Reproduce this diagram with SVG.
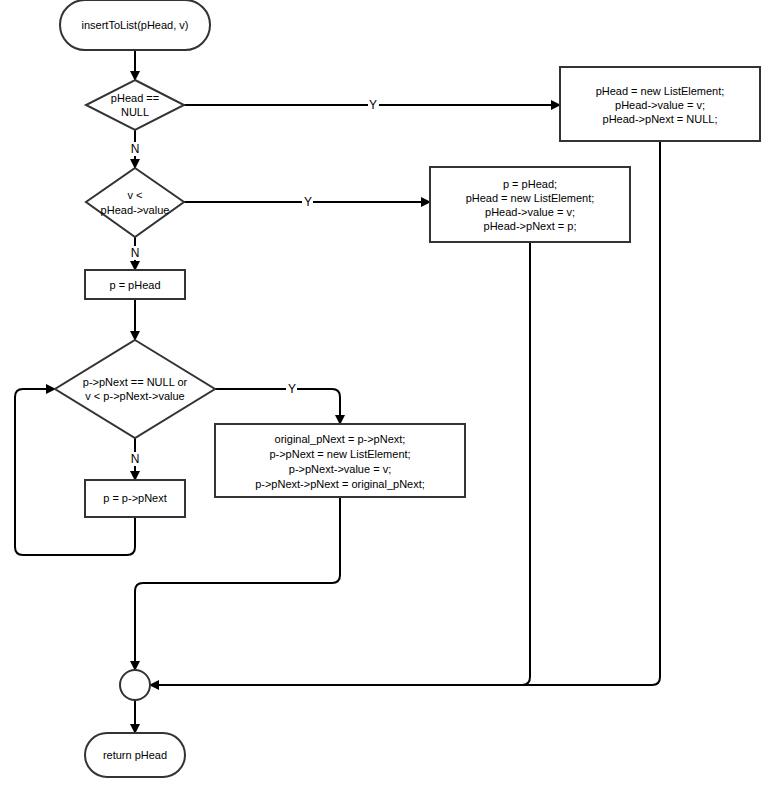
<svg xmlns="http://www.w3.org/2000/svg" width="784" height="800" viewBox="0 0 784 800">
<style>
.n{fill:#fff;stroke:#333;stroke-width:2}
.c{fill:none;stroke:#000;stroke-width:2}
text{font-family:"Liberation Sans",Arial,sans-serif;font-size:11px;fill:#000;text-anchor:middle}
.l{font-size:12px}
</style>
<defs><marker id="a" viewBox="0 0 10 10" refX="9" refY="5" markerWidth="5" markerHeight="5" orient="auto"><path d="M0,0L10,5L0,10z" fill="#000"/></marker></defs>
<rect width="784" height="800" fill="#fff"/>
<g id="connectors">
<path class="c" d="M135,50V80" marker-end="url(#a)"/>
<path class="c" d="M135,130V168" marker-end="url(#a)"/>
<path class="c" d="M135,237V270" marker-end="url(#a)"/>
<path class="c" d="M135,299V340" marker-end="url(#a)"/>
<path class="c" d="M135,438V480" marker-end="url(#a)"/>
<path class="c" d="M184,105H560" marker-end="url(#a)"/>
<path class="c" d="M184,202H430" marker-end="url(#a)"/>
<path class="c" d="M215,389H332Q340,389 340,397V424" marker-end="url(#a)"/>
<path class="c" d="M135,517V547Q135,555 127,555H23Q15,555 15,547V397Q15,389 23,389H55" marker-end="url(#a)"/>
<path class="c" d="M340,497V575Q340,583 332,583H143Q135,583 135,591V670" marker-end="url(#a)"/>
<path class="c" d="M660,141V677Q660,685 652,685H150" marker-end="url(#a)"/>
<path class="c" d="M530,242V677Q530,685 522,685"/>
<path class="c" d="M135,700V733" marker-end="url(#a)"/>
<g class="l">
<rect x="368" y="98" width="11" height="14" fill="#fff"/><text x="373" y="109" class="l">Y</text>
<rect x="302" y="195" width="11" height="14" fill="#fff"/><text x="308" y="206" class="l">Y</text>
<rect x="286" y="382" width="11" height="14" fill="#fff"/><text x="292" y="393" class="l">Y</text>
<rect x="129" y="142" width="12" height="14" fill="#fff"/><text x="135" y="153" class="l">N</text>
<rect x="129" y="246" width="12" height="14" fill="#fff"/><text x="135" y="257" class="l">N</text>
<rect x="129" y="452" width="12" height="14" fill="#fff"/><text x="135" y="463" class="l">N</text>
</g>
</g>
<g id="start"><rect class="n" x="60" y="0" width="150" height="50" rx="25"/><text x="135" y="29">insertToList(pHead, v)</text></g>
<g id="d1"><path class="n" d="M135,80L184,105L135,130L86,105Z"/><text x="135" y="102">pHead ==</text><text x="135" y="116">NULL</text></g>
<g id="d2"><path class="n" d="M135,168L184,202L135,237L86,202Z"/><text x="135" y="199">v &lt;</text><text x="135" y="214">pHead-&gt;value</text></g>
<g id="b0"><rect class="n" x="85" y="270" width="100" height="29"/><text x="135" y="289">p = pHead</text></g>
<g id="d3"><path class="n" d="M135,340L215,389L135,438L55,389Z"/><text x="135" y="386">p-&gt;pNext == NULL or</text><text x="135" y="400">v &lt; p-&gt;pNext-&gt;value</text></g>
<g id="b1"><rect class="n" x="85" y="480" width="100" height="37"/><text x="135" y="502">p = p-&gt;pNext</text></g>
<g id="b2"><rect class="n" x="215" y="424" width="250" height="73"/>
<text x="340" y="443">original_pNext = p-&gt;pNext;</text><text x="340" y="458">p-&gt;pNext = new ListElement;</text><text x="340" y="473">p-&gt;pNext-&gt;value = v;</text><text x="340" y="488">p-&gt;pNext-&gt;pNext = original_pNext;</text></g>
<g id="b3"><rect class="n" x="560" y="67" width="200" height="74"/>
<text x="660" y="95">pHead = new ListElement;</text><text x="660" y="109">pHead-&gt;value = v;</text><text x="660" y="123">pHead-&gt;pNext = NULL;</text></g>
<g id="b4"><rect class="n" x="430" y="167" width="200" height="75"/>
<text x="530" y="188">p = pHead;</text><text x="530" y="202">pHead = new ListElement;</text><text x="530" y="216">pHead-&gt;value = v;</text><text x="530" y="230">pHead-&gt;pNext = p;</text></g>
<g id="merge"><circle class="n" cx="135" cy="685" r="15"/></g>
<g id="end"><rect class="n" x="85" y="733" width="100" height="44" rx="22"/><text x="135" y="759">return pHead</text></g>
</svg>
